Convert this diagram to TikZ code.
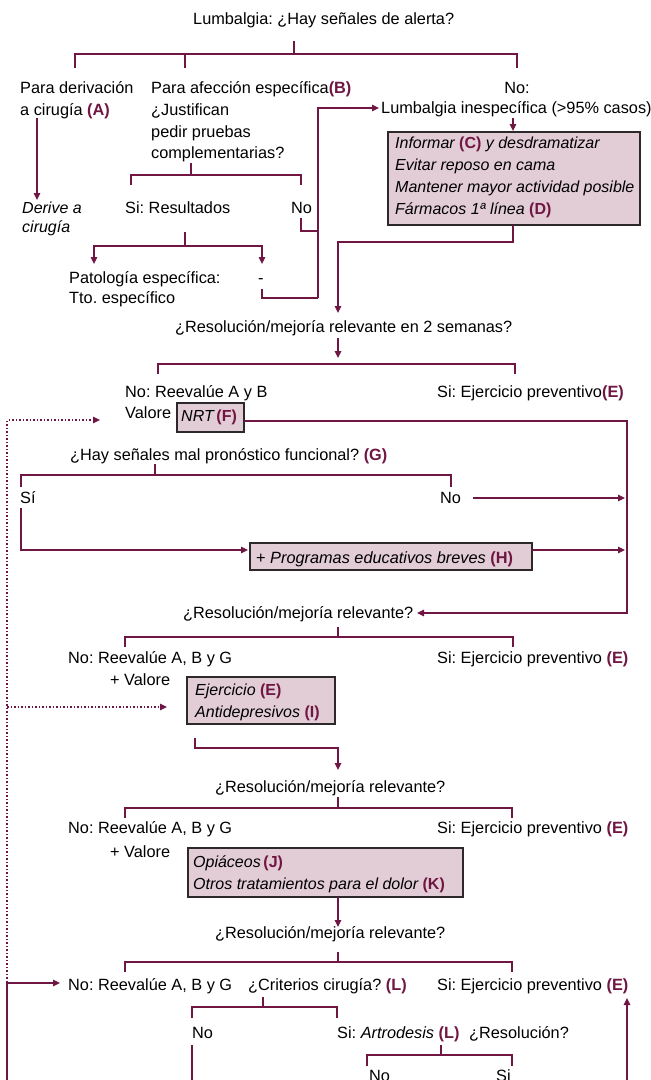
\documentclass[tikz,border=0pt]{standalone}
\usepackage{fontspec}
\setmainfont{Liberation Sans}
\usetikzlibrary{arrows.meta}
\definecolor{mar}{RGB}{112,22,66}
\definecolor{boxfill}{RGB}{226,204,214}
\definecolor{boxline}{RGB}{45,40,42}
\newcommand{\lbl}[1]{{\upshape\bfseries\color{mar}(#1)}}
\frenchspacing
\begin{document}
\begin{tikzpicture}[x=1pt,y=-1pt,
  txt/.style={inner sep=0pt,anchor=base west,font=\fontsize{16.3}{22}\selectfont},
  itx/.style={txt,font=\fontsize{16}{22}\selectfont\itshape},
  wbox/.style={draw=boxline,line width=1.3pt,fill=boxfill,inner sep=0pt},
  conn/.style={draw=mar,line width=1.5pt},
  arr/.style={conn,-{Triangle[length=7pt,width=6.5pt]}},
  dots/.style={draw=mar,line width=1.5pt,dotted},
  darr/.style={dots,-{Triangle[length=7pt,width=6.5pt]}}]
\useasboundingbox (0,0) rectangle (651,1080);
\fill[white] (0,0) rectangle (651,1080);

% ---------- boxes ----------
\path[wbox] (388,132) rectangle (640,225);
\coordinate (boxC) at (388,132);
\path[wbox] (177,403) rectangle (244,432);
\coordinate (boxF) at (177,403);
\path[wbox] (250,543) rectangle (532,570);
\coordinate (boxH) at (250,543);
\path[wbox] (187,677) rectangle (335,724);
\coordinate (boxI) at (187,677);
\path[wbox] (188,848) rectangle (463,897);
\coordinate (boxJ) at (188,848);

% ---------- texts ----------
\node[txt] (t0) at (193,24) {Lumbalgia: ¿Hay señales de alerta?};
\node[txt] (a1) at (20,93) {Para derivación};
\node[txt] (a2) at (20,115) {a cirugía \lbl{A}};
\node[txt] (b1) at (151,93) {Para afección específica\lbl{B}};
\node[txt] (b2) at (151,115) {¿Justifican};
\node[txt] (b3) at (151,137) {pedir pruebas};
\node[txt] (b4) at (151,158) {complementarias?};
\node[txt,anchor=base] (c1) at (517,93) {No:};
\node[txt] (c2) at (381,113) {Lumbalgia inespecífica (>95\% casos)};
\node[itx] (c3) at (395,148) {Informar \lbl{C} y desdramatizar};
\node[itx] (c4) at (395,170) {Evitar reposo en cama};
\node[itx] (c5) at (395,192) {Mantener mayor actividad posible};
\node[itx] (c6) at (395,214) {Fármacos 1ª línea \lbl{D}};
\node[itx] (d1) at (22,213) {Derive a};
\node[itx] (d2) at (22,232) {cirugía};
\node[txt] (e1) at (125,213) {Si: Resultados};
\node[txt] (e2) at (291,213) {No};
\node[txt] (f1) at (69,283) {Patología específica:};
\node[txt] (f2) at (69,303) {Tto. específico};
\node[txt] (f3) at (258,283) {-};
\node[txt] (g0) at (175,332) {¿Resolución/mejoría relevante en 2 semanas?};
\node[txt] (h1) at (125,397) {No: Reevalúe A y B};
\node[txt] (h2) at (437,397) {Si: Ejercicio preventivo\lbl{E}};
\node[txt] (h3) at (125,418) {Valore};
\node[itx] (h4) at (181,421) {NRT\,\lbl{F}};
\node[txt] (i0) at (70,460) {¿Hay señales mal pronóstico funcional? \lbl{G}};
\node[txt] (i1) at (20,503) {Sí};
\node[txt] (i2) at (440,503) {No};
\node[txt] (i3) at (256,563) {+ \textit{Programas educativos breves} \lbl{H}};
\node[txt] (j0) at (183,618) {¿Resolución/mejoría relevante?};
\node[txt] (j1) at (68,663) {No: Reevalúe A, B y G};
\node[txt] (j2) at (437,663) {Si: Ejercicio preventivo \lbl{E}};
\node[txt] (j3) at (110,685) {+ Valore};
\node[itx] (j4) at (195,695) {Ejercicio \lbl{E}};
\node[itx] (j5) at (195,717) {Antidepresivos \lbl{I}};
\node[txt] (k0) at (215,792) {¿Resolución/mejoría relevante?};
\node[txt] (k1) at (68,833) {No: Reevalúe A, B y G};
\node[txt] (k2) at (437,833) {Si: Ejercicio preventivo \lbl{E}};
\node[txt] (k3) at (110,857) {+ Valore};
\node[itx] (k4) at (193,867) {Opiáceos\,\lbl{J}};
\node[itx] (k5) at (193,889) {Otros tratamientos para el dolor \lbl{K}};
\node[txt] (l0) at (215,938) {¿Resolución/mejoría relevante?};
\node[txt] (l1) at (68,990) {No: Reevalúe A, B y G};
\node[txt] (l1b) at (248,990) {¿Criterios cirugía? \lbl{L}};
\node[txt] (l2) at (437,990) {Si: Ejercicio preventivo \lbl{E}};
\node[txt] (m1) at (192,1038) {No};
\node[txt] (m2) at (337,1038) {Si: \textit{Artrodesis} \lbl{L}};
\node[txt] (m3) at (469,1038) {¿Resolución?};
\node[txt] (n1) at (369,1081) {No};
\node[txt] (n2) at (496,1081) {Si};

% ---------- connectors ----------
% top tree
\path[conn] (294,41) -- (294,54);
\path[conn] (75,68) -- (75,54) -- (517,54) -- (517,68);
\path[conn] (185,54) -- (185,68);
% left: derive
\path[arr] (37,118) -- (37,200);
% middle tree
\path[conn] (191,163) -- (191,175);
\path[conn] (131,185) -- (131,175) -- (301,175) -- (301,185);
\path[conn] (301,218) -- (301,231) -- (318,231);
\path[conn] (262,289) -- (262,298) -- (318,298);
\path[arr] (318,298) -- (318,108) -- (379,108);
\path[conn] (185,232) -- (185,246);
\path[arr] (185,246) -- (94,246) -- (94,264);
\path[arr] (185,246) -- (262,246) -- (262,264);
% right
\path[arr] (513,118) -- (513,131);
\path[arr] (513,225) -- (513,242) -- (338,242) -- (338,313);
% 2 semanas tree
\path[arr] (338,338) -- (338,358);
\path[conn] (158,374) -- (158,364) -- (515,364) -- (515,374);
% NRT
\path[arr] (244,421) -- (627,421) -- (627,613) -- (417,613);
\path[darr] (7,982) -- (7,420) -- (100,420);
% pronóstico tree
\path[conn] (155,464) -- (155,475);
\path[conn] (21,487) -- (21,475) -- (451,475) -- (451,487);
\path[arr] (473,498) -- (625,498);
\path[arr] (21,508) -- (21,550) -- (248,550);
\path[arr] (532,550) -- (625,550);
% tree j
\path[conn] (338,627) -- (338,637);
\path[conn] (125,647) -- (125,637) -- (513,637) -- (513,647);
\path[darr] (7,707) -- (167,707);
\path[arr] (195,738) -- (195,748) -- (338,748) -- (338,770);
% tree k
\path[conn] (338,797) -- (338,808);
\path[conn] (125,818) -- (125,808) -- (512,808) -- (512,818);
\path[arr] (338,897) -- (338,927);
% tree l
\path[conn] (338,952) -- (338,962);
\path[conn] (125,972) -- (125,962) -- (512,962) -- (512,972);
\path[arr] (7,1082) -- (7,983) -- (60,983);
\path[arr] (627,1082) -- (627,998);
\path[conn] (263,997) -- (263,1007);
\path[conn] (192,1018) -- (192,1007) -- (337,1007) -- (337,1018);
\path[conn] (192,1045) -- (192,1082);
\path[conn] (441,1045) -- (441,1055);
\path[conn] (367,1066) -- (367,1055) -- (512,1055) -- (512,1066);
\path[conn,draw=mar!35] (7,1080.3) -- (290,1080.3);
\end{tikzpicture}
\end{document}
